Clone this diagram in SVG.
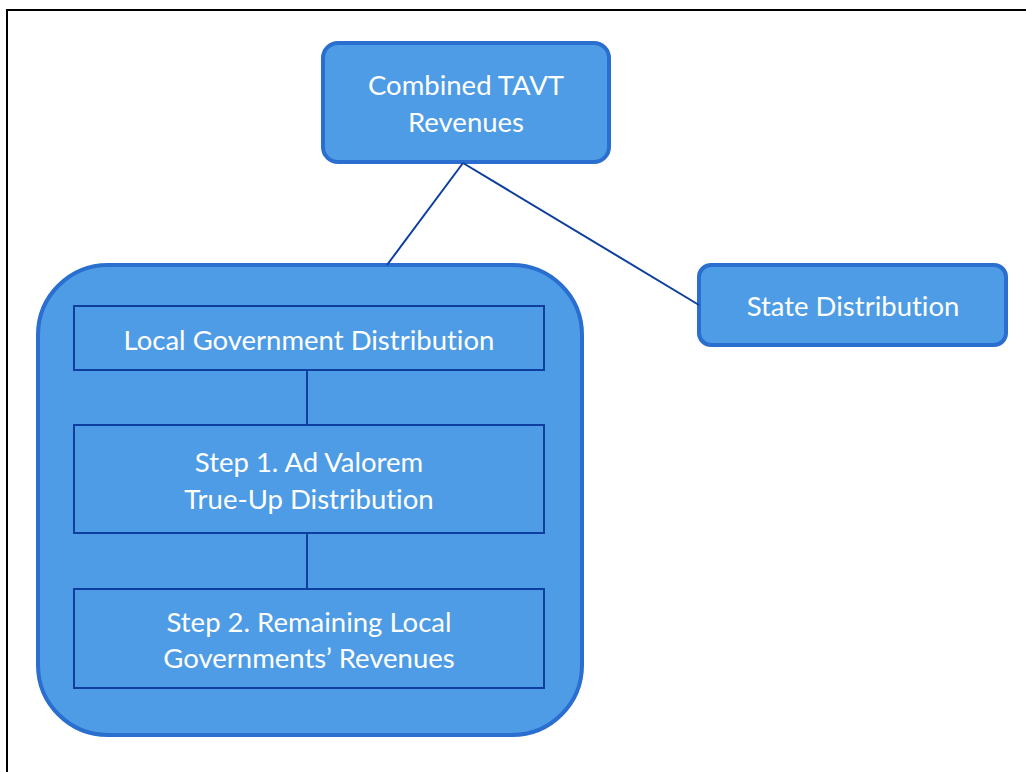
<svg xmlns="http://www.w3.org/2000/svg" width="1026" height="772" viewBox="0 0 1026 772">
<style>
.frame{fill:#fff;stroke:#000;stroke-width:2}
.rb{fill:#4e9ce5;stroke:#2a6fcf;stroke-width:4}
.ib{fill:#4e9ce5;stroke:#0e3f9e;stroke-width:2}
.cn{stroke:#0e3f9e;stroke-width:2;fill:none}
text{font-family:Lato,"Open Sans","Liberation Sans",sans-serif;font-size:27.5px;fill:#fff;text-anchor:middle;font-variant-ligatures:none;font-feature-settings:"liga" 0}
</style>
<rect width="1026" height="772" fill="#fff"/>
<rect class="frame" x="7" y="10" width="1040" height="790"/>
<g id="combined">
<rect class="rb" x="323" y="43" width="286" height="119" rx="15"/>
<text x="466" y="95">Combined TAVT</text>
<text x="466" y="132">Revenues</text>
</g>
<g id="state">
<rect class="rb" x="699" y="265" width="307" height="80" rx="12"/>
<text x="853" y="316">State Distribution</text>
</g>
<g id="local-group">
<rect class="rb" x="38" y="265" width="544" height="470" rx="70"/>
</g>
<g id="connectors">
<line class="cn" x1="463" y1="163" x2="387" y2="265"/>
<line class="cn" x1="463" y1="163" x2="699" y2="305"/>
<line class="cn" x1="307" y1="370" x2="307" y2="425"/>
<line class="cn" x1="307" y1="533" x2="307" y2="589"/>
</g>
<g id="local">
<rect class="ib" x="74" y="306" width="470" height="64"/>
<text x="309" y="350">Local Government Distribution</text>
</g>
<g id="step1">
<rect class="ib" x="74" y="425" width="470" height="108"/>
<text x="309" y="472">Step 1. Ad Valorem</text>
<text x="309" y="509">True-Up Distribution</text>
</g>
<g id="step2">
<rect class="ib" x="74" y="589" width="470" height="99"/>
<text x="309" y="632">Step 2. Remaining Local</text>
<text x="309" y="668">Governments’ Revenues</text>
</g>
</svg>
